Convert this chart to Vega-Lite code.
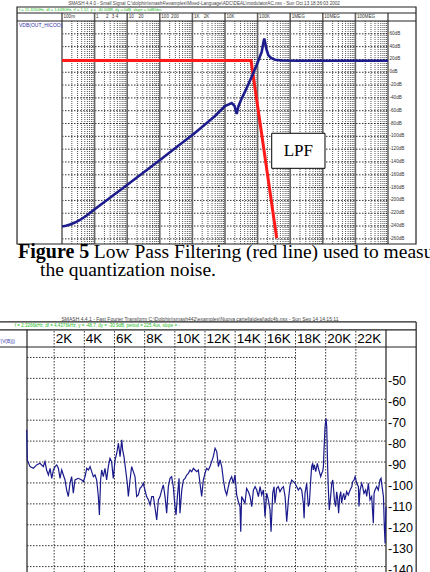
{
 "$schema": "https://vega.github.io/schema/vega-lite/v6.json",
 "width": 430,
 "height": 572,
 "autosize": {"type": "none"},
 "padding": 0,
 "background": "#ffffff",
 "config": {"view": {"stroke": null}, "text": {"font": "Liberation Sans", "color": "#333333"}},
 "datasets": {
  "blue": [
   {"f":0.1,"db":-240.7},{"f":0.1327,"db":-239.6},{"f":0.1759,"db":-237.6},{"f":0.2505,"db":-234.5},{"f":0.3565,"db":-230.5},{"f":0.5725,"db":-223.5},{"f":1.029,"db":-213.4},{"f":2.968,"db":-195.9},{"f":9.86,"db":-175.9},{"f":31.6,"db":-156.4},{"f":101.4,"db":-136.9},{"f":314,"db":-117.4},{"f":1043,"db":-97.1},{"f":2435,"db":-81.5},{"f":4935,"db":-68.3},{"f":10000,"db":-52.6},{"f":16050,"db":-48.0},{"f":19560,"db":-52.6},{"f":22850,"db":-65.1},{"f":25590,"db":-53.7},{"f":30960,"db":-43.3},{"f":41070,"db":-30.3},{"f":65920,"db":-6.9},{"f":93850,"db":11.3},{"f":133600,"db":31.6},{"f":151700,"db":47.2},{"f":160500,"db":52.7},{"f":171100,"db":45.7},{"f":187500,"db":35.5},{"f":212900,"db":26.9},{"f":257600,"db":22.3},{"f":341800,"db":19.5},{"f":548800,"db":18.4},{"f":2000000,"db":18.0},{"f":1000000000,"db":18.0}
  ],
  "red": [
   {"f":0.1,"db":18.5},{"f":62800,"db":18.5},{"f":385500,"db":-259.1}
  ],
  "minorT": [
   {"f":0.2},{"f":0.3},{"f":0.4},{"f":0.5},{"f":0.6},{"f":0.7},{"f":0.8},{"f":0.9},
   {"f":2},{"f":3},{"f":4},{"f":5},{"f":6},{"f":7},{"f":8},{"f":9},
   {"f":20},{"f":30},{"f":40},{"f":50},{"f":60},{"f":70},{"f":80},{"f":90},
   {"f":200},{"f":300},{"f":400},{"f":500},{"f":600},{"f":700},{"f":800},{"f":900},
   {"f":2000},{"f":3000},{"f":4000},{"f":5000},{"f":6000},{"f":7000},{"f":8000},{"f":9000},
   {"f":2e4},{"f":3e4},{"f":4e4},{"f":5e4},{"f":6e4},{"f":7e4},{"f":8e4},{"f":9e4},
   {"f":2e5},{"f":3e5},{"f":4e5},{"f":5e5},{"f":6e5},{"f":7e5},{"f":8e5},{"f":9e5},
   {"f":2e6},{"f":3e6},{"f":4e6},{"f":5e6},{"f":6e6},{"f":7e6},{"f":8e6},{"f":9e6},
   {"f":2e7},{"f":3e7},{"f":4e7},{"f":5e7},{"f":6e7},{"f":7e7},{"f":8e7},{"f":9e7},
   {"f":2e8},{"f":3e8},{"f":4e8},{"f":5e8},{"f":6e8},{"f":7e8},{"f":8e8},{"f":9e8}
  ],
  "decT": [
   {"f":0.1},{"f":1},{"f":10},{"f":100},{"f":1000},{"f":1e4},{"f":1e5},{"f":1e6},{"f":1e7},{"f":1e8},{"f":1e9}
  ],
  "ytT": [
   {"db":60,"label":"60dB"},{"db":40,"label":"40dB"},{"db":20,"label":"20dB"},{"db":0,"label":"0dB"},
   {"db":-20,"label":"-20dB"},{"db":-40,"label":"-40dB"},{"db":-60,"label":"-60dB"},{"db":-80,"label":"-80dB"},
   {"db":-100,"label":"-100dB"},{"db":-120,"label":"-120dB"},{"db":-140,"label":"-140dB"},{"db":-160,"label":"-160dB"},
   {"db":-180,"label":"-180dB"},{"db":-200,"label":"-200dB"},{"db":-220,"label":"-220dB"},{"db":-240,"label":"-240dB"},
   {"db":-260,"label":"-260dB"}
  ],
  "hdrT": [
   {"f":0.1,"label":"100m"},{"f":1,"label":"1"},{"f":2,"label":"2"},{"f":3,"label":"3"},{"f":4,"label":"4"},
   {"f":10,"label":"10"},{"f":20,"label":"20"},{"f":100,"label":"100"},{"f":200,"label":"200"},
   {"f":1000,"label":"1K"},{"f":2000,"label":"2K"},{"f":10000,"label":"10K"},{"f":100000,"label":"100K"},
   {"f":1000000,"label":"1MEG"},{"f":10000000,"label":"10MEG"},{"f":100000000,"label":"100MEG"}
  ],
  "hdrB": [
   {"k":2,"label":"2K"},{"k":4,"label":"4K"},{"k":6,"label":"6K"},{"k":8,"label":"8K"},{"k":10,"label":"10K"},
   {"k":12,"label":"12K"},{"k":14,"label":"14K"},{"k":16,"label":"16K"},{"k":18,"label":"18K"},{"k":20,"label":"20K"},{"k":22,"label":"22K"}
  ],
  "ytB": [
   {"db":-50,"label":"-50"},{"db":-60,"label":"-60"},{"db":-70,"label":"-70"},{"db":-80,"label":"-80"},{"db":-90,"label":"-90"},
   {"db":-100,"label":"-100"},{"db":-110,"label":"-110"},{"db":-120,"label":"-120"},{"db":-130,"label":"-130"},{"db":-140,"label":"-140"}
  ],
  "fft": [
   {"k":0.18,"db":-74.6},{"k":0.22,"db":-89.0},{"k":0.40,"db":-92.2},{"k":0.62,"db":-93.0},{"k":0.84,"db":-91.4},{"k":1.06,"db":-90.6},{"k":1.28,"db":-92.2},{"k":1.39,"db":-89.8},{"k":1.50,"db":-93.8},{"k":1.62,"db":-96.2},{"k":1.73,"db":-93.0},{"k":1.84,"db":-97.8},{"k":1.95,"db":-93.8},{"k":2.06,"db":-92.2},{"k":2.17,"db":-91.4},{"k":2.28,"db":-93.0},{"k":2.39,"db":-97.8},{"k":2.50,"db":-93.8},{"k":2.61,"db":-96.2},{"k":2.72,"db":-98.6},{"k":2.83,"db":-103.4},{"k":2.94,"db":-106.5},{"k":3.05,"db":-100.2},{"k":3.16,"db":-97.0},{"k":3.27,"db":-104.9},{"k":3.38,"db":-98.6},{"k":3.60,"db":-97.8},{"k":3.83,"db":-98.6},{"k":3.94,"db":-99.4},{"k":4.05,"db":-97.0},{"k":4.16,"db":-93.0},{"k":4.27,"db":-93.8},{"k":4.38,"db":-92.2},{"k":4.49,"db":-94.6},{"k":4.60,"db":-97.0},{"k":4.71,"db":-96.2},{"k":4.82,"db":-98.6},{"k":4.93,"db":-106.5},{"k":5.00,"db":-115.3},{"k":5.08,"db":-98.6},{"k":5.15,"db":-93.8},{"k":5.26,"db":-97.0},{"k":5.37,"db":-93.0},{"k":5.48,"db":-98.6},{"k":5.59,"db":-92.2},{"k":5.70,"db":-88.2},{"k":5.81,"db":-89.8},{"k":5.92,"db":-97.8},{"k":6.04,"db":-89.0},{"k":6.15,"db":-85.8},{"k":6.26,"db":-81.0},{"k":6.37,"db":-87.4},{"k":6.48,"db":-79.4},{"k":6.54,"db":-84.2},{"k":6.63,"db":-87.4},{"k":6.74,"db":-93.8},{"k":6.85,"db":-100.2},{"k":6.92,"db":-106.5},{"k":7.03,"db":-98.6},{"k":7.14,"db":-92.2},{"k":7.25,"db":-94.6},{"k":7.36,"db":-97.0},{"k":7.47,"db":-106.5},{"k":7.58,"db":-105.7},{"k":7.69,"db":-102.6},{"k":7.80,"db":-101.8},{"k":7.91,"db":-100.2},{"k":8.02,"db":-103.4},{"k":8.13,"db":-106.5},{"k":8.25,"db":-108.1},{"k":8.36,"db":-110.5},{"k":8.47,"db":-106.5},{"k":8.58,"db":-106.5},{"k":8.69,"db":-112.1},{"k":8.80,"db":-117.7},{"k":8.91,"db":-108.1},{"k":9.02,"db":-106.5},{"k":9.13,"db":-103.4},{"k":9.24,"db":-101.0},{"k":9.35,"db":-106.5},{"k":9.46,"db":-114.5},{"k":9.57,"db":-101.8},{"k":9.68,"db":-97.8},{"k":9.79,"db":-97.0},{"k":9.90,"db":-101.8},{"k":10.01,"db":-111.3},{"k":10.08,"db":-115.3},{"k":10.17,"db":-106.5},{"k":10.28,"db":-97.8},{"k":10.34,"db":-114.5},{"k":10.46,"db":-103.4},{"k":10.57,"db":-98.6},{"k":10.68,"db":-97.8},{"k":10.79,"db":-96.2},{"k":10.90,"db":-95.4},{"k":11.01,"db":-93.8},{"k":11.12,"db":-94.6},{"k":11.23,"db":-93.0},{"k":11.34,"db":-93.8},{"k":11.45,"db":-94.6},{"k":11.56,"db":-93.8},{"k":11.67,"db":-100.2},{"k":11.78,"db":-106.5},{"k":11.89,"db":-98.6},{"k":12.00,"db":-95.4},{"k":12.11,"db":-93.0},{"k":12.22,"db":-93.8},{"k":12.33,"db":-92.2},{"k":12.44,"db":-89.8},{"k":12.55,"db":-87.4},{"k":12.67,"db":-83.4},{"k":12.78,"db":-85.0},{"k":12.89,"db":-92.2},{"k":13.00,"db":-89.0},{"k":13.11,"db":-92.2},{"k":13.22,"db":-98.6},{"k":13.33,"db":-103.4},{"k":13.44,"db":-105.7},{"k":13.55,"db":-101.8},{"k":13.66,"db":-98.6},{"k":13.77,"db":-97.0},{"k":13.88,"db":-100.2},{"k":13.99,"db":-96.2},{"k":14.10,"db":-105.7},{"k":14.21,"db":-108.9},{"k":14.32,"db":-111.3},{"k":14.37,"db":-123.3},{"k":14.43,"db":-106.5},{"k":14.54,"db":-108.1},{"k":14.65,"db":-109.7},{"k":14.76,"db":-102.6},{"k":14.88,"db":-104.2},{"k":14.99,"db":-106.5},{"k":15.10,"db":-111.3},{"k":15.21,"db":-103.4},{"k":15.32,"db":-101.8},{"k":15.43,"db":-103.4},{"k":15.54,"db":-106.5},{"k":15.65,"db":-101.8},{"k":15.76,"db":-105.7},{"k":15.87,"db":-103.4},{"k":15.98,"db":-116.1},{"k":16.09,"db":-104.9},{"k":16.20,"db":-108.1},{"k":16.31,"db":-112.9},{"k":16.38,"db":-123.3},{"k":16.49,"db":-104.9},{"k":16.58,"db":-101.8},{"k":16.64,"db":-109.7},{"k":16.75,"db":-102.6},{"k":16.86,"db":-101.8},{"k":16.97,"db":-104.2},{"k":17.09,"db":-102.6},{"k":17.20,"db":-101.8},{"k":17.31,"db":-106.5},{"k":17.42,"db":-118.5},{"k":17.53,"db":-108.1},{"k":17.64,"db":-101.0},{"k":17.75,"db":-98.6},{"k":17.86,"db":-99.4},{"k":17.97,"db":-100.2},{"k":18.08,"db":-101.8},{"k":18.19,"db":-103.4},{"k":18.30,"db":-102.2},{"k":18.41,"db":-103.4},{"k":18.52,"db":-109.7},{"k":18.57,"db":-116.9},{"k":18.63,"db":-105.0},{"k":18.74,"db":-100.2},{"k":18.85,"db":-111.3},{"k":18.92,"db":-109.7},{"k":19.01,"db":-98.6},{"k":19.07,"db":-92.2},{"k":19.14,"db":-90.6},{"k":19.18,"db":-93.8},{"k":19.25,"db":-91.4},{"k":19.34,"db":-94.6},{"k":19.45,"db":-90.6},{"k":19.52,"db":-93.0},{"k":19.58,"db":-94.6},{"k":19.67,"db":-97.0},{"k":19.74,"db":-95.4},{"k":19.80,"db":-94.6},{"k":19.85,"db":-92.2},{"k":19.89,"db":-84.2},{"k":19.96,"db":-73.1},{"k":20.02,"db":-69.1},{"k":20.07,"db":-73.1},{"k":20.13,"db":-92.2},{"k":20.18,"db":-103.4},{"k":20.24,"db":-112.9},{"k":20.33,"db":-106.5},{"k":20.40,"db":-100.2},{"k":20.47,"db":-98.6},{"k":20.51,"db":-101.8},{"k":20.58,"db":-108.1},{"k":20.66,"db":-111.3},{"k":20.73,"db":-104.2},{"k":20.80,"db":-108.1},{"k":20.86,"db":-114.5},{"k":20.93,"db":-106.5},{"k":21.00,"db":-104.2},{"k":21.06,"db":-109.7},{"k":21.13,"db":-106.5},{"k":21.20,"db":-105.0},{"k":21.26,"db":-108.1},{"k":21.33,"db":-106.5},{"k":21.39,"db":-104.2},{"k":21.50,"db":-105.8},{"k":21.62,"db":-103.4},{"k":21.73,"db":-101.8},{"k":21.79,"db":-99.4},{"k":21.88,"db":-98.6},{"k":21.95,"db":-97.0},{"k":22.06,"db":-100.2},{"k":22.17,"db":-101.8},{"k":22.21,"db":-111.3},{"k":22.28,"db":-103.4},{"k":22.39,"db":-100.2},{"k":22.45,"db":-101.8},{"k":22.54,"db":-105.0},{"k":22.65,"db":-103.4},{"k":22.72,"db":-106.5},{"k":22.83,"db":-100.2},{"k":22.94,"db":-108.1},{"k":23.05,"db":-106.5},{"k":23.16,"db":-119.3},{"k":23.21,"db":-105.0},{"k":23.27,"db":-103.4},{"k":23.38,"db":-101.8},{"k":23.49,"db":-103.4},{"k":23.60,"db":-98.6},{"k":23.67,"db":-97.8},{"k":23.74,"db":-101.8},{"k":23.83,"db":-106.5},{"k":23.89,"db":-120.9},{"k":23.94,"db":-128.9},{"k":23.98,"db":-116.1},{"k":24.00,"db":-111.3}
  ]
 },
 "resolve": {"scale": {"x": "independent", "y": "independent"}},
 "layer": [
  {
   "layer": [
    {"data": {"name": "minorT"}, "mark": {"type": "rule", "color": "#000000", "strokeWidth": 0.7, "strokeDash": [1, 1], "opacity": 0.95},
     "encoding": {"x": {"field": "f", "type": "quantitative", "scale": {"type": "log", "domain": [0.1, 1000000000], "range": [62, 388], "nice": false}, "axis": null},
      "y": {"datum": -268, "type": "quantitative", "scale": {"domain": [-268, 80], "range": [244, 21], "zero": false, "nice": false}, "axis": null}, "y2": {"datum": 80}}},
    {"data": {"name": "ytT"}, "mark": {"type": "rule", "color": "#000000", "strokeWidth": 0.8, "strokeDash": [1.5, 1.5]},
     "encoding": {"y": {"field": "db", "type": "quantitative", "scale": {"domain": [-268, 80], "range": [244, 21], "zero": false, "nice": false}, "axis": null},
      "x": {"datum": 0.1, "type": "quantitative", "scale": {"type": "log", "domain": [0.1, 1000000000], "range": [62, 388], "nice": false}, "axis": null}, "x2": {"datum": 1000000000}}},
    {"data": {"name": "decT"}, "mark": {"type": "rule", "color": "#666666", "strokeWidth": 1.6},
     "encoding": {"x": {"field": "f", "type": "quantitative", "scale": {"type": "log", "domain": [0.1, 1000000000], "range": [62, 388], "nice": false}, "axis": null},
      "y": {"datum": -268, "type": "quantitative", "scale": {"domain": [-268, 80], "range": [244, 21], "zero": false, "nice": false}, "axis": null}, "y2": {"datum": 92.5}}},
    {"data": {"values": [{}]}, "mark": {"type": "rect", "filled": false, "color": "#222222", "strokeWidth": 1.2},
     "encoding": {"x": {"datum": 0.00417, "type": "quantitative", "scale": {"type": "log", "domain": [0.1, 1000000000], "range": [62, 388], "nice": false}, "axis": null}, "x2": {"datum": 7230000000},
      "y": {"datum": 101.85, "type": "quantitative", "scale": {"domain": [-268, 80], "range": [244, 21], "zero": false, "nice": false}, "axis": null}, "y2": {"datum": -268}}},
    {"data": {"values": [{}]}, "mark": {"type": "rule", "color": "#222222", "strokeWidth": 1.2},
     "encoding": {"x": {"datum": 0.00417, "type": "quantitative", "scale": {"type": "log", "domain": [0.1, 1000000000], "range": [62, 388], "nice": false}, "axis": null}, "x2": {"datum": 7230000000},
      "y": {"datum": 92.5, "type": "quantitative", "scale": {"domain": [-268, 80], "range": [244, 21], "zero": false, "nice": false}, "axis": null}}},
    {"data": {"values": [{}]}, "mark": {"type": "rule", "color": "#222222", "strokeWidth": 1.2},
     "encoding": {"x": {"datum": 0.00417, "type": "quantitative", "scale": {"type": "log", "domain": [0.1, 1000000000], "range": [62, 388], "nice": false}, "axis": null}, "x2": {"datum": 7230000000},
      "y": {"datum": 80, "type": "quantitative", "scale": {"domain": [-268, 80], "range": [244, 21], "zero": false, "nice": false}, "axis": null}}},
    {"data": {"name": "red"}, "mark": {"type": "line", "color": "#ff1a1a", "strokeWidth": 3},
     "encoding": {"x": {"field": "f", "type": "quantitative", "scale": {"type": "log", "domain": [0.1, 1000000000], "range": [62, 388], "nice": false}, "axis": null},
      "y": {"field": "db", "type": "quantitative", "scale": {"domain": [-268, 80], "range": [244, 21], "zero": false, "nice": false}, "axis": null}}},
    {"data": {"name": "blue"}, "mark": {"type": "line", "color": "#1c1c8c", "strokeWidth": 2.6},
     "encoding": {"x": {"field": "f", "type": "quantitative", "scale": {"type": "log", "domain": [0.1, 1000000000], "range": [62, 388], "nice": false}, "axis": null},
      "y": {"field": "db", "type": "quantitative", "scale": {"domain": [-268, 80], "range": [244, 21], "zero": false, "nice": false}, "axis": null}}},
    {"data": {"values": [{}]}, "mark": {"type": "rect", "fill": "#ffffff", "stroke": "#000000", "strokeWidth": 1},
     "encoding": {"x": {"datum": 271000, "type": "quantitative", "scale": {"type": "log", "domain": [0.1, 1000000000], "range": [62, 388], "nice": false}, "axis": null}, "x2": {"datum": 11670000},
      "y": {"datum": -95.2, "type": "quantitative", "scale": {"domain": [-268, 80], "range": [244, 21], "zero": false, "nice": false}, "axis": null}, "y2": {"datum": -149.9}}},
    {"data": {"values": [{}]}, "mark": {"type": "text", "font": "Liberation Serif", "fontSize": 17, "color": "#000000", "align": "center", "baseline": "middle"},
     "encoding": {"x": {"datum": 1780000, "type": "quantitative", "scale": {"type": "log", "domain": [0.1, 1000000000], "range": [62, 388], "nice": false}, "axis": null},
      "y": {"datum": -122.6, "type": "quantitative", "scale": {"domain": [-268, 80], "range": [244, 21], "zero": false, "nice": false}, "axis": null}, "text": {"value": "LPF"}}},
    {"data": {"name": "ytT"}, "mark": {"type": "text", "fontSize": 4.6, "align": "left", "baseline": "middle", "dx": 1.5},
     "encoding": {"y": {"field": "db", "type": "quantitative", "scale": {"domain": [-268, 80], "range": [244, 21], "zero": false, "nice": false}, "axis": null},
      "x": {"datum": 1000000000, "type": "quantitative", "scale": {"type": "log", "domain": [0.1, 1000000000], "range": [62, 388], "nice": false}, "axis": null}, "text": {"field": "label"}}},
    {"data": {"name": "hdrT"}, "mark": {"type": "text", "fontSize": 4.6, "align": "left", "baseline": "middle", "dx": 1.5},
     "encoding": {"x": {"field": "f", "type": "quantitative", "scale": {"type": "log", "domain": [0.1, 1000000000], "range": [62, 388], "nice": false}, "axis": null},
      "y": {"datum": 86.5, "type": "quantitative", "scale": {"domain": [-268, 80], "range": [244, 21], "zero": false, "nice": false}, "axis": null}, "text": {"field": "label"}}},
    {"data": {"values": [{}]}, "mark": {"type": "text", "fontSize": 4.6, "align": "center", "baseline": "middle", "color": "#444444"},
     "encoding": {"x": {"datum": 2270, "type": "quantitative", "scale": {"type": "log", "domain": [0.1, 1000000000], "range": [62, 388], "nice": false}, "axis": null},
      "y": {"datum": 107.3, "type": "quantitative", "scale": {"domain": [-268, 80], "range": [244, 21], "zero": false, "nice": false}, "axis": null},
      "text": {"value": "SMASH 4.4.0 - Small Signal C:\\dolphin\\smash4\\examples\\Mixed-Language\\ADC\\DEAL\\modulatorAC.nsx - Sun Oct 13 18:36:03 2002"}}},
    {"data": {"values": [{}]}, "mark": {"type": "text", "fontSize": 4, "align": "left", "baseline": "middle", "color": "#22bb22"},
     "encoding": {"x": {"datum": 0.0048, "type": "quantitative", "scale": {"type": "log", "domain": [0.1, 1000000000], "range": [62, 388], "nice": false}, "axis": null},
      "y": {"datum": 97.2, "type": "quantitative", "scale": {"domain": [-268, 80], "range": [244, 21], "zero": false, "nice": false}, "axis": null},
      "text": {"value": "f = 15.3260Hz, df = 1.6480Hz, rf = 1.12, y = -40.0088, dy = 0dB, slope = 0dB/dec"}}},
    {"data": {"values": [{}]}, "mark": {"type": "text", "fontSize": 5, "align": "left", "baseline": "middle", "color": "#3333aa"},
     "encoding": {"x": {"datum": 0.0048, "type": "quantitative", "scale": {"type": "log", "domain": [0.1, 1000000000], "range": [62, 388], "nice": false}, "axis": null},
      "y": {"datum": 73.8, "type": "quantitative", "scale": {"domain": [-268, 80], "range": [244, 21], "zero": false, "nice": false}, "axis": null},
      "text": {"value": "VDB(OUT_HICOO)"}}},
    {"data": {"values": [{}]}, "mark": {"type": "text", "font": "Liberation Serif", "fontSize": 20, "fontWeight": "bold", "align": "left", "baseline": "alphabetic", "color": "#000000"},
     "encoding": {"x": {"datum": 0.00447, "type": "quantitative", "scale": {"type": "log", "domain": [0.1, 1000000000], "range": [62, 388], "nice": false}, "axis": null},
      "y": {"datum": -289.1, "type": "quantitative", "scale": {"domain": [-268, 80], "range": [244, 21], "zero": false, "nice": false}, "axis": null},
      "text": {"value": "Figure 5"}}},
    {"data": {"values": [{}]}, "mark": {"type": "text", "font": "Liberation Serif", "fontSize": 19.5, "align": "left", "baseline": "alphabetic", "color": "#000000"},
     "encoding": {"x": {"datum": 0.95, "type": "quantitative", "scale": {"type": "log", "domain": [0.1, 1000000000], "range": [62, 388], "nice": false}, "axis": null},
      "y": {"datum": -289.1, "type": "quantitative", "scale": {"domain": [-268, 80], "range": [244, 21], "zero": false, "nice": false}, "axis": null},
      "text": {"value": "Low Pass Filtering (red line) used to measure"}}},
    {"data": {"values": [{}]}, "mark": {"type": "text", "font": "Liberation Serif", "fontSize": 19.5, "align": "left", "baseline": "alphabetic", "color": "#000000"},
     "encoding": {"x": {"datum": 0.02113, "type": "quantitative", "scale": {"type": "log", "domain": [0.1, 1000000000], "range": [62, 388], "nice": false}, "axis": null},
      "y": {"datum": -318.3, "type": "quantitative", "scale": {"domain": [-268, 80], "range": [244, 21], "zero": false, "nice": false}, "axis": null},
      "text": {"value": "the quantization noise."}}}
   ]
  },
  {
   "layer": [
    {"data": {"name": "hdrB"}, "mark": {"type": "rule", "color": "#000000", "strokeWidth": 0.8, "strokeDash": [1.5, 1.5]},
     "encoding": {"x": {"field": "k", "type": "quantitative", "scale": {"domain": [0.2, 24], "range": [27, 386], "zero": false, "nice": false}, "axis": null},
      "y": {"datum": -150, "type": "quantitative", "scale": {"domain": [-150, -35], "range": [587.5, 347], "zero": false, "nice": false}, "axis": null}, "y2": {"datum": -26.8}}},
    {"data": {"name": "ytB"}, "mark": {"type": "rule", "color": "#000000", "strokeWidth": 0.8, "strokeDash": [1.5, 1.5]},
     "encoding": {"y": {"field": "db", "type": "quantitative", "scale": {"domain": [-150, -35], "range": [587.5, 347], "zero": false, "nice": false}, "axis": null},
      "x": {"datum": 0.2, "type": "quantitative", "scale": {"domain": [0.2, 24], "range": [27, 386], "zero": false, "nice": false}, "axis": null}, "x2": {"datum": 24}}},
    {"data": {"values": [{}]}, "mark": {"type": "rule", "color": "#000000", "strokeWidth": 0.8, "strokeDash": [1.5, 1.5]},
     "encoding": {"y": {"datum": -40, "type": "quantitative", "scale": {"domain": [-150, -35], "range": [587.5, 347], "zero": false, "nice": false}, "axis": null},
      "x": {"datum": 0.2, "type": "quantitative", "scale": {"domain": [0.2, 24], "range": [27, 386], "zero": false, "nice": false}, "axis": null}, "x2": {"datum": 18.0}}},
    {"data": {"values": [{}]}, "mark": {"type": "rule", "color": "#222222", "strokeWidth": 1.2},
     "encoding": {"y": {"datum": -23.0, "type": "quantitative", "scale": {"domain": [-150, -35], "range": [587.5, 347], "zero": false, "nice": false}, "axis": null},
      "x": {"datum": -2.5, "type": "quantitative", "scale": {"domain": [0.2, 24], "range": [27, 386], "zero": false, "nice": false}, "axis": null}, "x2": {"datum": 26.0}}},
    {"data": {"values": [{}]}, "mark": {"type": "rule", "color": "#222222", "strokeWidth": 1.2},
     "encoding": {"y": {"datum": -26.8, "type": "quantitative", "scale": {"domain": [-150, -35], "range": [587.5, 347], "zero": false, "nice": false}, "axis": null},
      "x": {"datum": -2.5, "type": "quantitative", "scale": {"domain": [0.2, 24], "range": [27, 386], "zero": false, "nice": false}, "axis": null}, "x2": {"datum": 26.0}}},
    {"data": {"values": [{}]}, "mark": {"type": "rule", "color": "#222222", "strokeWidth": 1.2},
     "encoding": {"y": {"datum": -35, "type": "quantitative", "scale": {"domain": [-150, -35], "range": [587.5, 347], "zero": false, "nice": false}, "axis": null},
      "x": {"datum": -2.5, "type": "quantitative", "scale": {"domain": [0.2, 24], "range": [27, 386], "zero": false, "nice": false}, "axis": null}, "x2": {"datum": 26.0}}},
    {"data": {"values": [{}]}, "mark": {"type": "rule", "color": "#222222", "strokeWidth": 1.2},
     "encoding": {"x": {"datum": 0.2, "type": "quantitative", "scale": {"domain": [0.2, 24], "range": [27, 386], "zero": false, "nice": false}, "axis": null},
      "y": {"datum": -150, "type": "quantitative", "scale": {"domain": [-150, -35], "range": [587.5, 347], "zero": false, "nice": false}, "axis": null}, "y2": {"datum": -26.8}}},
    {"data": {"values": [{}]}, "mark": {"type": "rule", "color": "#222222", "strokeWidth": 1.2},
     "encoding": {"x": {"datum": 24, "type": "quantitative", "scale": {"domain": [0.2, 24], "range": [27, 386], "zero": false, "nice": false}, "axis": null},
      "y": {"datum": -150, "type": "quantitative", "scale": {"domain": [-150, -35], "range": [587.5, 347], "zero": false, "nice": false}, "axis": null}, "y2": {"datum": -26.8}}},
    {"data": {"values": [{}]}, "mark": {"type": "rule", "color": "#222222", "strokeWidth": 1.2},
     "encoding": {"x": {"datum": 26.0, "type": "quantitative", "scale": {"domain": [0.2, 24], "range": [27, 386], "zero": false, "nice": false}, "axis": null},
      "y": {"datum": -150, "type": "quantitative", "scale": {"domain": [-150, -35], "range": [587.5, 347], "zero": false, "nice": false}, "axis": null}, "y2": {"datum": -23.0}}},
    {"data": {"name": "fft"}, "mark": {"type": "line", "color": "#1a1a8c", "strokeWidth": 1.2},
     "encoding": {"x": {"field": "k", "type": "quantitative", "scale": {"domain": [0.2, 24], "range": [27, 386], "zero": false, "nice": false}, "axis": null},
      "y": {"field": "db", "type": "quantitative", "scale": {"domain": [-150, -35], "range": [587.5, 347], "zero": false, "nice": false}, "axis": null}}},
    {"data": {"name": "hdrB"}, "mark": {"type": "text", "fontSize": 13.5, "align": "left", "baseline": "middle", "dx": 1.5, "color": "#000000"},
     "encoding": {"x": {"field": "k", "type": "quantitative", "scale": {"domain": [0.2, 24], "range": [27, 386], "zero": false, "nice": false}, "axis": null},
      "y": {"datum": -31.3, "type": "quantitative", "scale": {"domain": [-150, -35], "range": [587.5, 347], "zero": false, "nice": false}, "axis": null}, "text": {"field": "label"}}},
    {"data": {"name": "ytB"}, "mark": {"type": "text", "fontSize": 12.5, "align": "left", "baseline": "middle", "dx": 2, "dy": 3, "color": "#000000"},
     "encoding": {"y": {"field": "db", "type": "quantitative", "scale": {"domain": [-150, -35], "range": [587.5, 347], "zero": false, "nice": false}, "axis": null},
      "x": {"datum": 24, "type": "quantitative", "scale": {"domain": [0.2, 24], "range": [27, 386], "zero": false, "nice": false}, "axis": null}, "text": {"field": "label"}}},
    {"data": {"values": [{}]}, "mark": {"type": "text", "fontSize": 5, "align": "center", "baseline": "middle", "color": "#444444"},
     "encoding": {"x": {"datum": 11.67, "type": "quantitative", "scale": {"domain": [0.2, 24], "range": [27, 386], "zero": false, "nice": false}, "axis": null},
      "y": {"datum": -21.7, "type": "quantitative", "scale": {"domain": [-150, -35], "range": [587.5, 347], "zero": false, "nice": false}, "axis": null},
      "text": {"value": "SMASH 4.4.1 - Fast Fourier Transform C:\\Dolphin\\smash442\\examples\\Nuova cartella\\deal\\adc4b.nsx - Sun Sep 14 14:15:11"}}},
    {"data": {"values": [{}]}, "mark": {"type": "text", "fontSize": 4.5, "align": "right", "baseline": "middle", "color": "#22bb22"},
     "encoding": {"x": {"datum": 10.34, "type": "quantitative", "scale": {"domain": [0.2, 24], "range": [27, 386], "zero": false, "nice": false}, "axis": null},
      "y": {"datum": -24.9, "type": "quantitative", "scale": {"domain": [-150, -35], "range": [587.5, 347], "zero": false, "nice": false}, "axis": null},
      "text": {"value": "f = 2.3266kHz, df = 4.4376kHz, y = -48.7, dy = -30.9dB, period = 225.4us, slope = -"}}},
    {"data": {"values": [{}]}, "mark": {"type": "text", "fontSize": 4.8, "align": "right", "baseline": "middle", "color": "#3333aa"},
     "encoding": {"x": {"datum": -0.6, "type": "quantitative", "scale": {"domain": [0.2, 24], "range": [27, 386], "zero": false, "nice": false}, "axis": null},
      "y": {"datum": -32.5, "type": "quantitative", "scale": {"domain": [-150, -35], "range": [587.5, 347], "zero": false, "nice": false}, "axis": null},
      "text": {"value": "DB(FFT(V(B)))"}}}
   ]
  }
 ]
}
